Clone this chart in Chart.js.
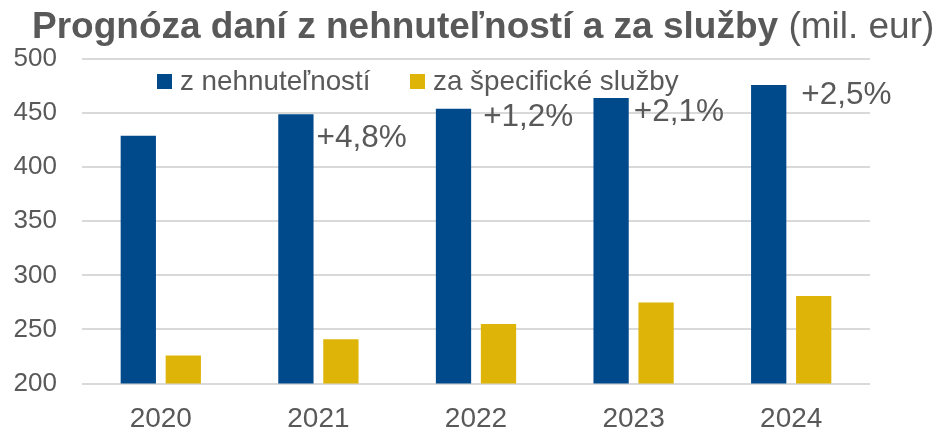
<!DOCTYPE html>
<html>
<head>
<meta charset="utf-8">
<script src="https://cdn.jsdelivr.net/npm/chart.js@4"></script>
<style>
  html, body { margin: 0; padding: 0; background: #fff; }
  #wrap { width: 936px; height: 429px; position: relative; }
</style>
</head>
<body>
<div id="wrap"><canvas id="myChart" width="936" height="429"></canvas></div>
<script>
const years = ["2020", "2021", "2022", "2023", "2024"];
const propertyTax = [429, 449, 454, 464, 476];      // z nehnuteľností
const servicesTax = [226, 241, 255, 275, 281];      // za špecifické služby
const growthLabels = ["", "+4,8%", "+1,2%", "+2,1%", "+2,5%"];
const yTicks = [200, 250, 300, 350, 400, 450, 500];

const seriesNames = ["z nehnuteľností", "za špecifické služby"];
const titleBold = "Prognóza daní z nehnuteľností a za služby";
const titleUnit = " (mil. eur)";

const BLUE = "#004A8C";
const YELLOW = "#DEB408";
const GREY = "#595959";
const FONT = "'Liberation Sans', Arial, sans-serif";

// title with a bold and a normal part
const titlePlugin = {
    id: "mixedTitle",
    afterDraw(chart) {
        const ctx = chart.ctx;
        ctx.save();
        ctx.fillStyle = GREY;
        ctx.textBaseline = "alphabetic";
        ctx.textAlign = "left";
        ctx.font = "bold 37px " + FONT;
        ctx.fillText(titleBold, 32, 38);
        const w = ctx.measureText(titleBold).width;
        ctx.font = "37px " + FONT;
        ctx.fillText(titleUnit, 32 + w, 38);
        ctx.restore();
    },
};

// legend sits inside the plot area
const legendPlugin = {
    id: "innerLegend",
    afterDraw(chart) {
        const ctx = chart.ctx;
        const items = [
            { x: 157, color: BLUE, text: seriesNames[0] },
            { x: 410, color: YELLOW, text: seriesNames[1] },
        ];
        ctx.save();
        ctx.font = "27.8px " + FONT;
        ctx.textBaseline = "middle";
        ctx.textAlign = "left";
        items.forEach((it) => {
            ctx.fillStyle = it.color;
            ctx.fillRect(it.x, 74, 15, 15);
            ctx.fillStyle = GREY;
            ctx.fillText(it.text, it.x + 23, 82);
        });
        ctx.restore();
    },
};

// growth labels next to the blue bars
const growthPlugin = {
    id: "growth",
    afterDatasetsDraw(chart) {
        const ctx = chart.ctx;
        const meta = chart.getDatasetMeta(0);
        const dx = [0, 3, 12, 5, 15];
        const dy = [0, 33, 17, 23, 19];
        ctx.save();
        ctx.font = "31.5px " + FONT;
        ctx.fillStyle = GREY;
        ctx.textBaseline = "alphabetic";
        ctx.textAlign = "left";
        meta.data.forEach((bar, i) => {
            if (!growthLabels[i]) return;
            const right = bar.x + bar.width / 2;
            ctx.fillText(growthLabels[i], right + dx[i], bar.y + dy[i]);
        });
        ctx.restore();
    },
};

new Chart("myChart", {
    type: "bar",
    data: {
        labels: years,
        datasets: [
            {
                label: seriesNames[0],
                data: propertyTax,
                backgroundColor: BLUE,
                barPercentage: 0.784,
                categoryPercentage: 0.571,
            },
            {
                label: seriesNames[1],
                data: servicesTax,
                backgroundColor: YELLOW,
                barPercentage: 0.784,
                categoryPercentage: 0.571,
            },
        ],
    },
    options: {
        responsive: false,
        animation: false,
        layout: { padding: { top: 59, right: 66, bottom: 0, left: 0 } },
        plugins: {
            legend: { display: false },
            title: { display: false },
            tooltip: { enabled: false },
        },
        scales: {
            x: {
                grid: { display: false },
                border: { display: false },
                ticks: {
                    color: GREY,
                    font: { family: FONT, size: 28 },
                    padding: 11,
                },
                afterFit(scale) { scale.height = 45.5; },
            },
            y: {
                min: yTicks[0],
                max: yTicks[yTicks.length - 1],
                afterBuildTicks(scale) {
                    scale.ticks = yTicks.map((v) => ({ value: v }));
                },
                grid: { color: "#D9D9D9", lineWidth: 2, drawTicks: false },
                border: { display: false },
                ticks: {
                    color: GREY,
                    font: { family: FONT, size: 26 },
                    padding: 25,
                },
                afterFit(scale) { scale.width = 82; },
            },
        },
    },
    plugins: [titlePlugin, legendPlugin, growthPlugin],
});
</script>
</body>
</html>
